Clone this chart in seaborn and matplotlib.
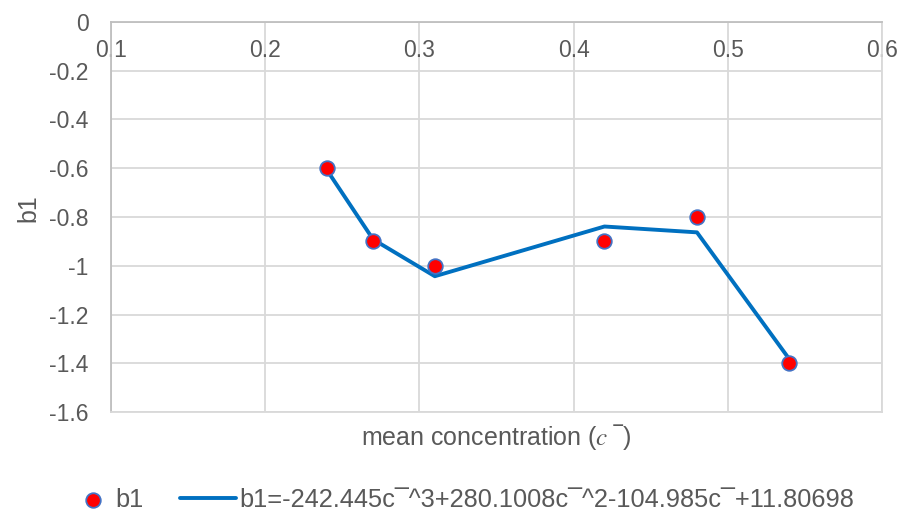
import matplotlib
matplotlib.use("Agg")
import matplotlib.pyplot as plt
import seaborn as sns
import pandas as pd
from matplotlib.ticker import FuncFormatter, MultipleLocator

# Data
conc = [0.24, 0.27, 0.31, 0.42, 0.48, 0.54]
b1_obs = [-0.60, -0.90, -1.00, -0.90, -0.80, -1.40]
b1_fit = [-0.607, -0.892, -1.043, -0.839, -0.863, -1.384]
legend_points = "b1"
legend_fit = "b1=-242.445c\u00af^3+280.1008c\u00af^2-104.985c\u00af+11.80698"

df = pd.DataFrame({"c": conc, "obs": b1_obs, "fit": b1_fit})

sns.set_theme(style="white")
plt.rcParams['font.family'] = ['Liberation Sans', 'DejaVu Sans']
plt.rcParams['mathtext.fontset'] = 'stix'

W, H = 906, 520
fig = plt.figure(figsize=(W/100, H/100), dpi=100)
ax = fig.add_axes([111/W, 1-412/H, (882-111)/W, (412-22)/H])

txt = "#595959"
sns.lineplot(data=df, x="c", y="fit", ax=ax, color="#0070C0", linewidth=2.8,
             label=legend_fit, sort=True, zorder=3)
sns.scatterplot(data=df, x="c", y="obs", ax=ax, color="#FF0000", edgecolor="#4472C4",
                linewidth=1.3, s=110, label=legend_points, zorder=4)

ax.set_xlim(0.1, 0.6)
ax.set_ylim(-1.6, 0)
ax.xaxis.set_major_locator(MultipleLocator(0.1))
ax.yaxis.set_major_locator(MultipleLocator(0.2))
fmt = FuncFormatter(lambda v, p: f"{round(v, 2):g}" if abs(v) > 1e-9 else "0")
ax.xaxis.set_major_formatter(fmt)
ax.yaxis.set_major_formatter(fmt)

ax.grid(True, color="#d9d9d9", linewidth=1.3)
ax.set_axisbelow(True)
for s in ax.spines.values():
    s.set_color("#d9d9d9")
    s.set_linewidth(1.3)
ax.spines['left'].set_color("#bfbfbf")
ax.spines['top'].set_color("#bfbfbf")

ax.tick_params(axis='x', top=True, labeltop=True, bottom=False, labelbottom=False,
               length=0, pad=-29, labelsize=16.5, labelcolor=txt)
ax.tick_params(axis='y', length=0, pad=16, labelsize=16.5, labelcolor=txt)

ax.set_xlabel("mean concentration ($\\mathit{c}$ \u203e)", fontsize=18, color=txt)
ax.xaxis.set_label_position('bottom')
ax.xaxis.labelpad = 7
ax.set_ylabel("b1", fontsize=18, color=txt)
ax.yaxis.set_label_coords(-0.092, 0.523)

h, l = ax.get_legend_handles_labels()
hp = h[l.index(legend_points)]
hf = h[l.index(legend_fit)]
if ax.get_legend():
    ax.get_legend().remove()

ycen = 1 - 500/H
fig.legend([hp], [legend_points], loc='center left',
           bbox_to_anchor=(70/W, ycen), frameon=False, fontsize=18.3,
           labelcolor=txt, handlelength=1.0, handletextpad=0.38,
           borderaxespad=0)
fig.legend([hf], [legend_fit], loc='center left',
           bbox_to_anchor=(170/W, ycen), frameon=False, fontsize=18.3,
           labelcolor=txt, handlelength=2.2, handletextpad=0.12,
           borderaxespad=0)

fig.savefig("out.png", dpi=100)
